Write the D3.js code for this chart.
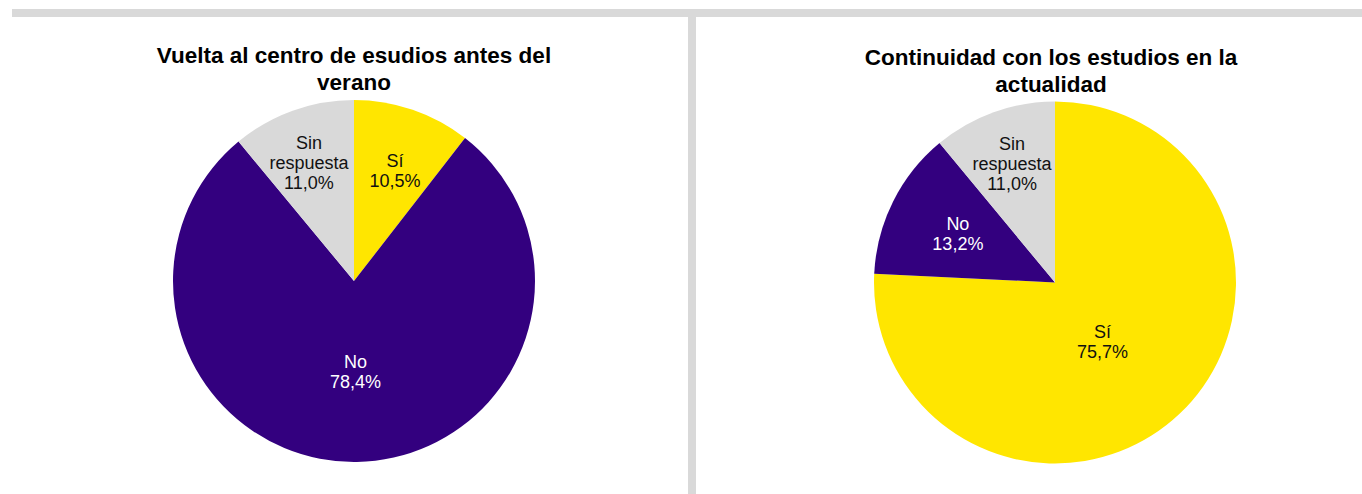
<!DOCTYPE html>
<html>
<head>
<meta charset="utf-8">
<script src="https://cdn.jsdelivr.net/npm/d3@7"></script>
<style>
  html, body { margin: 0; padding: 0; background: #fff; }
  svg { display: block; }
</style>
</head>
<body>
<svg id="chart" width="1362" height="494"></svg>
<script>
// ---- Data ----
const leftTitle = ["Vuelta al centro de esudios antes del", "verano"];
const leftCategories = ["Sí", "No", "Sin respuesta"];
const leftValues = [10.5, 78.4, 11.0];

const rightTitle = ["Continuidad con los estudios en la", "actualidad"];
const rightCategories = ["Sí", "No", "Sin respuesta"];
const rightValues = [75.7, 13.2, 11.0];

// ---- Styles ----
const colorMap = { "Sí": "#FFE600", "No": "#33007F", "Sin respuesta": "#D9D9D9" };
const textColorMap = { "Sí": "#111111", "No": "#ffffff", "Sin respuesta": "#111111" };

const svg = d3.select("#chart");
const W = 1362, H = 494;

// frame: top bar and vertical divider
svg.append("rect").attr("x", 12).attr("y", 9).attr("width", 1350).attr("height", 8).attr("fill", "#D9D9D9");
svg.append("rect").attr("x", 688).attr("y", 17).attr("width", 8).attr("height", H - 17).attr("fill", "#D9D9D9");

const fmt = v => d3.format(".1f")(v).replace(".", ",") + "%";

function drawPie(cfg) {
  const g = svg.append("g").attr("transform", `translate(${cfg.cx},${cfg.cy})`);
  const data = cfg.categories.map((c, i) => ({ cat: c, value: cfg.values[i], lr: cfg.labelR[i], la: cfg.labelA[i] }));
  const pie = d3.pie().value(d => d.value).sort(null).startAngle(0).endAngle(2 * Math.PI);
  const arcs = pie(data);
  const arc = d3.arc().innerRadius(0).outerRadius(cfg.r);

  g.selectAll("path").data(arcs).join("path")
    .attr("d", arc)
    .attr("fill", d => colorMap[d.data.cat]);

  const lbl = g.selectAll("text.lbl").data(arcs).join("text")
    .attr("class", "lbl")
    .attr("font-family", "Liberation Sans, Arial, sans-serif")
    .attr("font-size", 18)
    .attr("text-anchor", "middle")
    .attr("fill", d => textColorMap[d.data.cat])
    .attr("transform", d => {
      const a = (d.startAngle + d.endAngle) / 2 + d.data.la * Math.PI / 180;
      const rr = cfg.r * d.data.lr;
      return `translate(${rr * Math.sin(a)},${-rr * Math.cos(a)})`;
    });

  lbl.each(function(d) {
    const words = d.data.cat === "Sin respuesta" ? ["Sin", "respuesta"] : [d.data.cat];
    const lines = words.concat([fmt(d.data.value)]);
    const n = lines.length;
    const lh = 20;
    d3.select(this).selectAll("tspan").data(lines).join("tspan")
      .attr("x", 0)
      .attr("y", (l, i) => (i - (n - 1) / 2) * lh + 6.5)
      .text(l => l);
  });

  const t = svg.append("text")
    .attr("font-family", "Liberation Sans, Arial, sans-serif")
    .attr("font-weight", "bold")
    .attr("font-size", 22.5)
    .attr("fill", "#000")
    .attr("text-anchor", "middle");
  t.selectAll("tspan").data(cfg.title).join("tspan")
    .attr("x", cfg.tx)
    .attr("y", (l, i) => cfg.ty + i * 27)
    .text(l => l);
}

drawPie({ cx: 354, cy: 281, r: 181, categories: leftCategories, values: leftValues,
  labelR: [0.65, 0.5, 0.7], labelA: [1.5, 0, -1], title: leftTitle, tx: 354, ty: 63 });
drawPie({ cx: 1055, cy: 282.5, r: 181, categories: rightCategories, values: rightValues,
  labelR: [0.42, 0.6, 0.7], labelA: [5, 0, 0], title: rightTitle, tx: 1051, ty: 65 });
</script>
</body>
</html>
